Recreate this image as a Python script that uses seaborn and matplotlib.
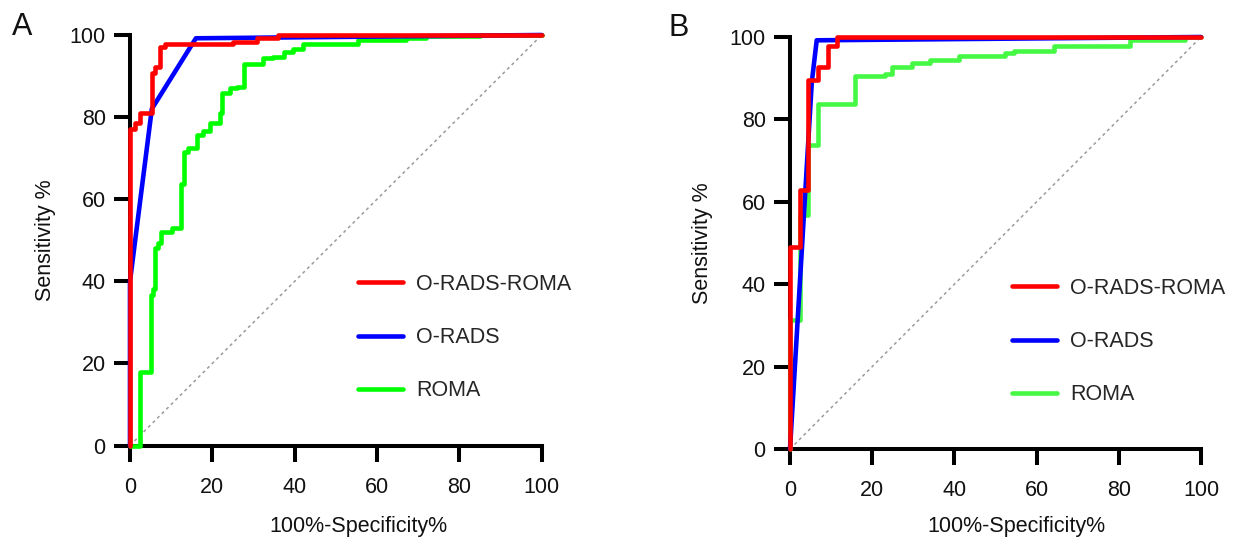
import matplotlib
matplotlib.use("Agg")
import matplotlib.pyplot as plt
import seaborn as sns
import pandas as pd

# ---------------- data ----------------
series_names = ["O-RADS-ROMA", "O-RADS", "ROMA"]
ticks = [0, 20, 40, 60, 80, 100]

# Panel A  (step curves: x = 100%-Specificity%, y = Sensitivity %)
a_combo_x = [0, 0, 1.2, 2.4, 5.3, 6.1, 7.3, 8.5, 25.1, 30.8, 36.0, 100]
a_combo_y = [0, 77.2, 78.5, 81.1, 90.7, 92.3, 97.1, 97.7, 98.4, 99.2, 100, 100]
a_orads_x = [0, 0, 5.3, 16.0, 100]
a_orads_y = [0, 40, 82.0, 99.2, 100]
a_roma_x = [0, 2.4, 5.1, 5.7, 6.1, 6.9, 7.5, 10.1, 12.4, 13.0, 14.2, 16.2, 17.8,
            19.4, 21.9, 22.3, 24.3, 25.9, 27.7, 32.4, 34.8, 37.3, 39.7, 42.1,
            55.5, 67.0, 72.0, 85.0, 100]
a_roma_y = [0, 18.0, 36.6, 38.2, 48.0, 49.3, 52.0, 53.0, 63.8, 71.5, 72.4, 75.6, 76.6,
            78.5, 80.9, 85.8, 87.0, 87.4, 92.9, 94.3, 94.7, 95.9, 96.6, 97.7,
            98.7, 99.3, 99.8, 100, 100]

# Panel B
b_combo_x = [0, 0, 2.4, 4.5, 6.9, 9.3, 11.4, 100]
b_combo_y = [0, 49.1, 62.9, 89.6, 92.6, 97.7, 100, 100]
b_orads_x = [0, 5.3, 6.5, 100]
b_orads_y = [0, 89.0, 99.2, 100]
b_roma_x = [0, 0, 2.4, 4.5, 6.9, 15.8, 23.1, 24.7, 29.6, 34.1, 41.0, 52.2, 54.6,
            64.2, 82.8, 96.0, 100]
b_roma_y = [0, 31.3, 56.8, 73.8, 83.7, 90.6, 91.0, 92.6, 93.6, 94.4, 95.4, 96.1, 96.7,
            97.8, 99.2, 100, 100]

colors_A = {"O-RADS-ROMA": "#ff0000", "O-RADS": "#0000ff", "ROMA": "#00ff00"}
colors_B = {"O-RADS-ROMA": "#ff0000", "O-RADS": "#0000ff", "ROMA": "#44f844"}

# ---------------- style ----------------
sns.set_style("ticks")
plt.rcParams["font.family"] = ["Liberation Sans", "DejaVu Sans"]

W, H = 1237, 542
fig = plt.figure(figsize=(W / 100, H / 100), dpi=100)

FS = 15.5
LW = 3.3


def panel(ax, combo, orads, roma, colors, xlab_x, xlab_y, ylab_x, leg_xy):
    # chance diagonal
    sns.lineplot(x=[0, 100], y=[0, 100], ax=ax, color="#9a9a9a", lw=1.1,
                 linestyle=(0, (2, 2.2)), estimator=None, sort=False, zorder=2)
    # ROMA
    sns.lineplot(x=roma[0], y=roma[1], ax=ax, color=colors["ROMA"], lw=LW,
                 drawstyle="steps-post", estimator=None, sort=False,
                 label="ROMA", clip_on=False, zorder=4)
    # O-RADS
    sns.lineplot(x=orads[0], y=orads[1], ax=ax, color=colors["O-RADS"], lw=LW,
                 estimator=None, sort=False, label="O-RADS", clip_on=False, zorder=5)
    # O-RADS-ROMA
    sns.lineplot(x=combo[0], y=combo[1], ax=ax, color=colors["O-RADS-ROMA"], lw=LW,
                 drawstyle="steps-post", estimator=None, sort=False,
                 label="O-RADS-ROMA", clip_on=False, zorder=6)

    ax.set_xlim(0, 100)
    ax.set_ylim(0, 100)
    ax.set_xticks(ticks)
    ax.set_yticks(ticks)
    ax.set_xticklabels([str(t) for t in ticks])
    ax.set_yticklabels([str(t) for t in ticks])
    for s in ["top", "right"]:
        ax.spines[s].set_visible(False)
    for s in ["left", "bottom"]:
        ax.spines[s].set_linewidth(2.9)
        ax.spines[s].set_color("black")
        ax.spines[s].set_zorder(3)
    ax.tick_params(axis="both", length=11.5, width=2.9, color="black",
                   labelsize=FS, labelcolor="#111111")
    ax.tick_params(axis="x", pad=11)
    ax.tick_params(axis="y", pad=6)

    ax.set_xlabel("100%-Specificity%", fontsize=FS, color="#111111", va="center")
    ax.xaxis.set_label_coords(xlab_x, xlab_y)
    ax.set_ylabel("Sensitivity %", fontsize=FS, color="#111111", va="center")
    ax.yaxis.set_label_coords(ylab_x, 0.5)

    handles, labels = ax.get_legend_handles_labels()
    order = [labels.index(n) for n in series_names]
    ax.legend([handles[i] for i in order], [labels[i] for i in order],
              loc="center left", bbox_to_anchor=leg_xy, bbox_transform=fig.transFigure,
              frameon=False, fontsize=FS, handlelength=2.1, handletextpad=0.6,
              labelspacing=1.5, borderpad=0, borderaxespad=0)


axA = fig.add_axes([130 / W, 1 - 445.5 / H, 411.7 / W, 410.5 / H])
axB = fig.add_axes([790 / W, 1 - 449 / H, 411 / W, 412 / H])

panel(axA, (a_combo_x, a_combo_y), (a_orads_x, a_orads_y), (a_roma_x, a_roma_y),
      colors_A, 0.556, -0.197, -0.206, (358 / W, 1 - 337.7 / H))
panel(axB, (b_combo_x, b_combo_y), (b_orads_x, b_orads_y), (b_roma_x, b_roma_y),
      colors_B, 0.552, -0.187, -0.214, (1011.7 / W, 1 - 341.7 / H))

fig.text(22 / W, 1 - 27 / H, "A", fontsize=22, ha="center", va="center", color="#111111")
fig.text(679 / W, 1 - 28 / H, "B", fontsize=22, ha="center", va="center", color="#111111")

fig.savefig("out.png", dpi=100, facecolor="white")
